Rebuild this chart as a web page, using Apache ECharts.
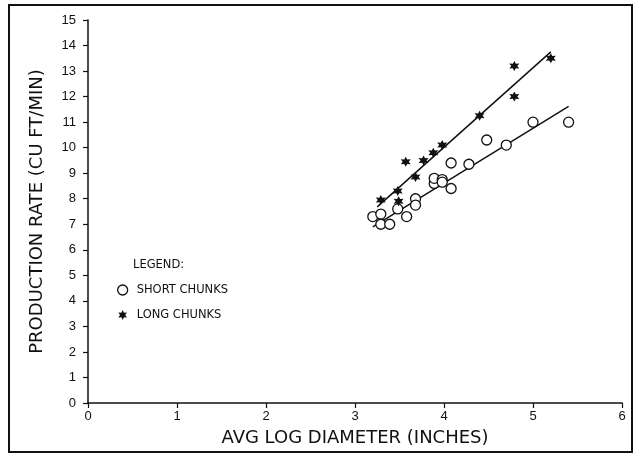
<!DOCTYPE html>
<html>
<head>
<meta charset="utf-8">
<script src="https://cdn.jsdelivr.net/npm/echarts@6/dist/echarts.min.js"></script>
<style>html,body{margin:0;padding:0;background:#fff;}#c{width:638px;height:458px;}</style>
</head>
<body>
<div id="c"></div>
<script>
// Short chunks (open circles): [avg log diameter, production rate]
var shortX = [3.2, 3.29, 3.29, 3.39, 3.48, 3.58, 3.68, 3.68, 3.89, 3.89, 3.98, 3.98, 4.08, 4.08, 4.28, 4.48, 4.7, 5.0, 5.4];
var shortY = [7.3, 7.4, 7.0, 7.0, 7.6, 7.3, 8.0, 7.75, 8.6, 8.8, 8.75, 8.65, 8.4, 9.4, 9.35, 10.3, 10.1, 11.0, 11.0];
// Long chunks (stars)
var longX = [3.29, 3.48, 3.49, 3.57, 3.68, 3.77, 3.88, 3.98, 4.4, 4.79, 4.79, 5.2];
var longY = [7.95, 8.3, 7.9, 9.45, 8.85, 9.5, 9.8, 10.1, 11.25, 13.2, 12.0, 13.5];
// Fitted lines (endpoints)
var shortFitX = [3.2, 5.4];
var shortFitY = [6.9, 11.62];
var longFitX = [3.25, 5.2];
var longFitY = [7.68, 13.75];
var xTicks = [0, 1, 2, 3, 4, 5, 6];
var yTicks = [0,1,2,3,4,5,6,7,8,9,10,11,12,13,14,15];

function zip(a, b) { return a.map(function (v, i) { return [v, b[i]]; }); }

var STAR = 'path://M0,-10 L2.6,-4.5 L8.66,-5 L5.2,0 L8.66,5 L2.6,4.5 L0,10 L-2.6,4.5 L-8.66,5 L-5.2,0 L-8.66,-5 L-2.6,-4.5 Z';
var FONT = 'Liberation Sans';

var chart = echarts.init(document.getElementById('c'));
chart.setOption({
  backgroundColor: '#fff',
  animation: false,
  grid: { left: 88, right: 16, top: 20, bottom: 55 },
  xAxis: {
    type: 'value', min: xTicks[0], max: xTicks[xTicks.length - 1], interval: 1,
    name: 'AVG LOG DIAMETER (INCHES)', nameLocation: 'middle', nameGap: 26,
    nameTextStyle: { fontFamily: 'DejaVu Sans', fontSize: 18, color: '#111' },
    axisLine: { lineStyle: { color: '#111', width: 1.5 } },
    axisTick: { length: 5, lineStyle: { color: '#111', width: 1.2 } },
    axisLabel: { fontFamily: FONT, fontSize: 13, color: '#111', margin: 7 },
    splitLine: { show: false }
  },
  yAxis: {
    type: 'value', min: yTicks[0], max: yTicks[yTicks.length - 1], interval: 1,
    name: 'PRODUCTION RATE (CU FT/MIN)', nameLocation: 'middle', nameGap: 42,
    nameTextStyle: { fontFamily: 'DejaVu Sans', fontSize: 18, color: '#111' },
    axisLine: { show: true, lineStyle: { color: '#111', width: 1.5 } },
    axisTick: { show: true, length: 5, lineStyle: { color: '#111', width: 1.2 } },
    axisLabel: { fontFamily: FONT, fontSize: 13, color: '#111', margin: 12 },
    splitLine: { show: false }
  },
  legend: {
    orient: 'vertical', left: 112, top: 279, itemWidth: 10, itemHeight: 10, itemGap: 13,
    textStyle: { fontFamily: 'DejaVu Sans', fontSize: 11.5, color: '#111', padding: [0, 0, 0, 4] },
    data: [
      { name: 'SHORT CHUNKS', icon: 'circle', itemStyle: { color: '#fff', borderColor: '#111', borderWidth: 1.3 } },
      { name: 'LONG CHUNKS', icon: STAR, itemStyle: { color: '#111' } }
    ]
  },
  graphic: [
    { type: 'rect', shape: { x: 9, y: 5, width: 623, height: 447 }, style: { fill: 'none', stroke: '#111', lineWidth: 2 }, silent: true },
    { type: 'text', left: 133, top: 259, style: { text: 'LEGEND:', font: '11.5px "DejaVu Sans"', fill: '#111' } }
  ],
  series: [
    { name: 'SHORT FIT', type: 'line', data: zip(shortFitX, shortFitY), showSymbol: false, lineStyle: { color: '#111', width: 1.5 }, z: 2 },
    { name: 'LONG FIT', type: 'line', data: zip(longFitX, longFitY), showSymbol: false, lineStyle: { color: '#111', width: 1.5 }, z: 2 },
    { name: 'SHORT CHUNKS', type: 'scatter', data: zip(shortX, shortY), symbol: 'circle', symbolSize: 10,
      itemStyle: { color: '#fff', borderColor: '#111', borderWidth: 1.3, opacity: 1 }, z: 3 },
    { name: 'LONG CHUNKS', type: 'scatter', data: zip(longX, longY), symbol: STAR, symbolSize: 10,
      itemStyle: { color: '#111', opacity: 1 }, z: 4 }
  ]
});
</script>
</body>
</html>
